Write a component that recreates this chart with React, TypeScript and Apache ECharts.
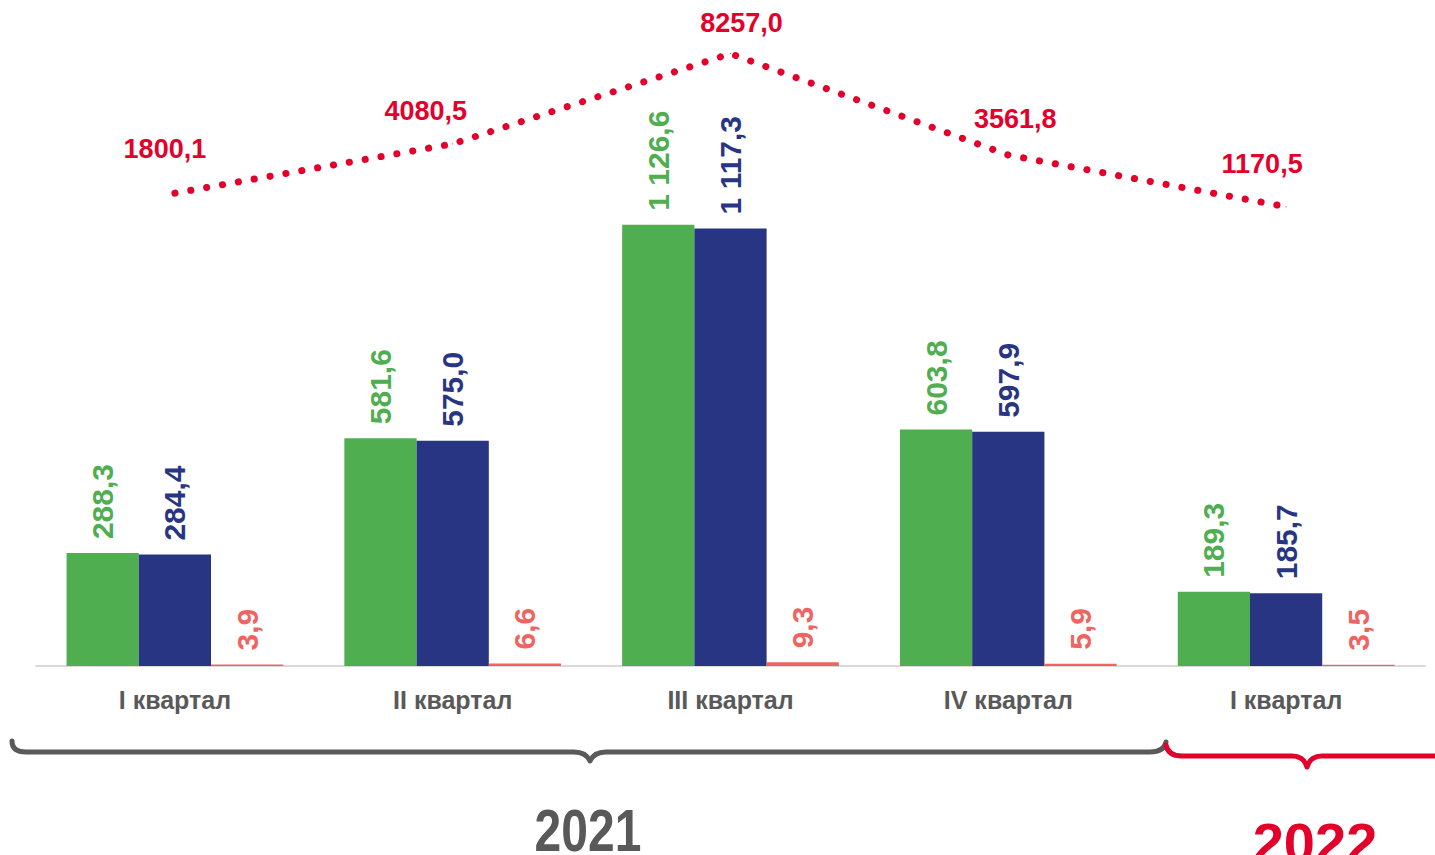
import React, { useEffect, useRef } from "react";
import * as echarts from "echarts";

const categories = ["I квартал", "II квартал", "III квартал", "IV квартал", "I квартал"];
const greenValues = [288.3, 581.6, 1126.6, 603.8, 189.3];
const navyValues = [284.4, 575.0, 1117.3, 597.9, 185.7];
const redValues = [3.9, 6.6, 9.3, 5.9, 3.5];
const lineValues = [1800.1, 4080.5, 8257.0, 3561.8, 1170.5];
const yearLabels = ["2021", "2022"];

const GREEN = "#4FAE4F";
const NAVY = "#283582";
const SALMON = "#EF6461";
const RED = "#E3002B";
const GRAY = "#595959";
const FONT = "Liberation Sans, Arial, sans-serif";

const GRAY_BRACE =
  "M12 741 Q12 752 26 752 L574 752 Q586 752 590 761 Q594 752 606 752 L1150 752 Q1164 752 1166 742";
const RED_BRACE =
  "M1166 745 Q1168 756 1182 756 L1292 756 Q1304 756 1307 767 Q1310 756 1322 756 L1440 756";

echarts.graphic.registerShape("braceGray", echarts.graphic.extendPath(GRAY_BRACE, {}));
echarts.graphic.registerShape("braceRed", echarts.graphic.extendPath(RED_BRACE, {}));

function fmtGrouped(v: number): string {
  const [i, d] = v.toFixed(1).split(".");
  return i.replace(/\B(?=(\d{3})+(?!\d))/g, " ") + "," + d;
}
function fmtPlain(v: number): string {
  return v.toFixed(1).replace(".", ",");
}

// label offsets for the dotted line (layout only)
const lineLabelOffsets = [
  [-10, -30],
  [-27, -19],
  [11, -17],
  [7, -22],
  [-24, -29],
];

function barSeries(name: string, values: number[], color: string) {
  return {
    name,
    type: "bar",
    xAxisIndex: 0,
    yAxisIndex: 0,
    data: values,
    barGap: "0%",
    barCategoryGap: "22%",
    itemStyle: { color },
    label: {
      show: true,
      position: "top",
      distance: 14,
      rotate: 90,
      align: "left",
      verticalAlign: "middle",
      color,
      fontSize: 30,
      fontWeight: "bold",
      fontFamily: FONT,
      formatter: (p: any) => fmtGrouped(p.value),
    },
  };
}

export default function App() {
  const ref = useRef<HTMLDivElement>(null);
  useEffect(() => {
    document.body.style.margin = "0";
    if (!ref.current) return;
    const chart = echarts.init(ref.current, null, { renderer: "svg" });
    const option: any = {
      animation: false,
      backgroundColor: "#ffffff",
      grid: [
        { left: 36, right: 10, top: 196, bottom: 189 },
        { left: 36, right: 10, top: 16, bottom: 623 },
      ],
      xAxis: [
        {
          type: "category",
          gridIndex: 0,
          data: categories,
          axisLine: { show: true, lineStyle: { color: "#D9D9D9", width: 2 } },
          axisTick: { show: false },
          axisLabel: {
            color: GRAY,
            fontSize: 25,
            fontWeight: "bold",
            fontFamily: FONT,
            margin: 21,
            interval: 0,
          },
        },
        {
          type: "category",
          gridIndex: 1,
          data: categories,
          show: false,
        },
      ],
      yAxis: [
        { type: "value", gridIndex: 0, min: 0, max: 1200, show: false, splitLine: { show: false } },
        { type: "value", gridIndex: 1, min: 0, max: 10000, show: false, splitLine: { show: false } },
      ],
      series: [
        barSeries("green", greenValues, GREEN),
        barSeries("navy", navyValues, NAVY),
        barSeries("salmon", redValues, SALMON),
        {
          name: "line",
          type: "line",
          xAxisIndex: 1,
          yAxisIndex: 1,
          symbol: "circle",
          symbolSize: 1,
          showSymbol: true,
          itemStyle: { color: RED },
          data: lineValues.map((v, i) => ({
            value: v,
            label: { offset: lineLabelOffsets[i] },
          })),
          lineStyle: { color: RED, width: 7, type: [0.1, 16], cap: "round" },
          label: {
            show: true,
            position: "top",
            distance: 0,
            color: RED,
            fontSize: 27,
            fontWeight: "bold",
            fontFamily: FONT,
            formatter: (p: any) => fmtPlain(p.value),
          },
          z: 5,
        },
      ],
      graphic: [
        {
          type: "braceGray",
          x: 0,
          y: 0,
          silent: true,
          style: { stroke: "#5A5A5A", fill: "none", lineWidth: 5, lineCap: "round", lineJoin: "round" },
        },
        {
          type: "braceRed",
          x: 0,
          y: 0,
          silent: true,
          style: { stroke: RED, fill: "none", lineWidth: 5, lineCap: "round", lineJoin: "round" },
        },
        {
          type: "text",
          x: 588,
          y: 831,
          scaleX: 0.8,
          silent: true,
          style: {
            text: yearLabels[0],
            fill: GRAY,
            font: `bold 60px ${FONT}`,
            textAlign: "center",
            textVerticalAlign: "middle",
          },
        },
        {
          type: "text",
          x: 1315,
          y: 842,
          silent: true,
          style: {
            text: yearLabels[1],
            fill: RED,
            font: `bold 56px ${FONT}`,
            textAlign: "center",
            textVerticalAlign: "middle",
          },
        },
      ],
    };
    chart.setOption(option);
    return () => chart.dispose();
  }, []);
  return (
    <div
      ref={ref}
      style={{ position: "absolute", left: 0, top: 0, width: 1435, height: 855 }}
    />
  );
}
